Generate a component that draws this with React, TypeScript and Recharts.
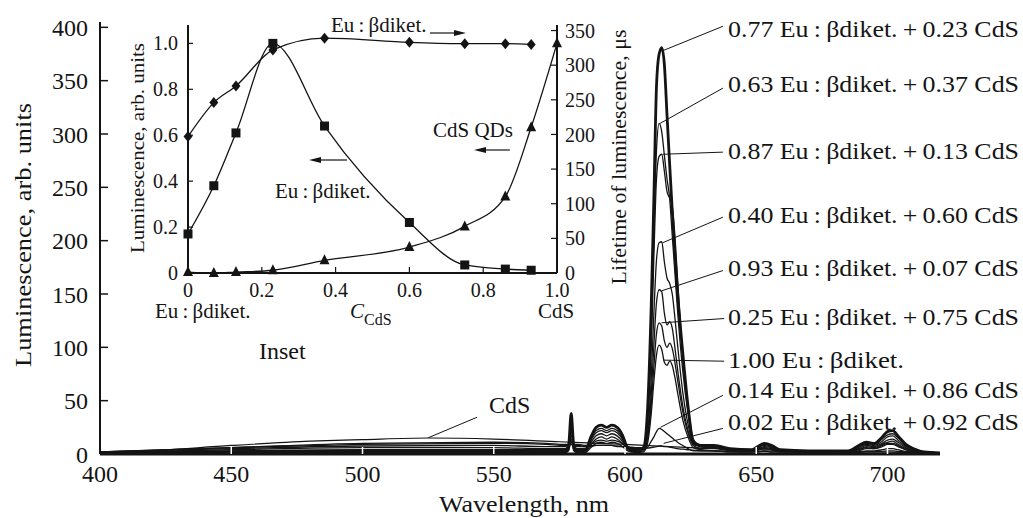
import { LineChart, ComposedChart, Line, XAxis, YAxis, ReferenceLine } from "recharts";

const SERIF = "'Liberation Serif', 'Times New Roman', serif";
const INK = "#141414";

// main panel: emission spectra, wavelength grid shared by the Eu-containing samples
const WAVELENGTHS = [
  400, 450, 500, 550, 570,
  577, 578.5, 579.5, 580.5, 582,
  585, 587, 589, 591, 593,
  595, 597, 599, 601, 604,
  607, 608.5, 610, 611, 612,
  613, 614, 615, 616, 617,
  618, 619, 620, 622, 624,
  626, 629, 634, 640, 648,
  650, 653, 656, 659, 670,
  685, 689, 692, 695, 698,
  700, 702, 704, 707, 710,
  714, 720,
];

const S_077 = [
  1, 2, 3, 3, 3,
  3, 8, 38, 8, 3,
  4, 16, 25, 27, 25,
  27, 25, 18, 6, 3,
  6, 38, 140, 240, 345,
  375, 381, 365, 318, 272,
  228, 188, 152, 95, 45,
  12, 8, 8, 5, 4,
  6, 10, 8, 4, 3,
  3, 8, 11, 10, 16,
  21, 22, 17, 9, 5,
  2, 1,
];

const S_063 = [
  1.5, 3, 4, 4, 4,
  4, 7, 30, 7, 4,
  4, 14, 22, 24, 22,
  24, 22, 15, 6, 4,
  5, 30, 115, 205, 285,
  310, 302, 280, 258, 240,
  205, 170, 135, 78, 38,
  11, 8, 7, 5, 4,
  5, 9, 7, 4, 3,
  3, 7, 10, 9, 14,
  18, 19, 15, 8, 4,
  2, 1,
];

const S_087 = [
  1, 1.5, 2, 2, 2,
  2, 6, 28, 6, 2,
  3, 13, 20, 22, 20,
  22, 20, 14, 5, 3,
  4, 26, 100, 185, 258,
  279, 281, 265, 246, 240,
  232, 205, 165, 92, 45,
  14, 7, 6, 4, 3,
  5, 8, 6, 3, 3,
  2, 6, 9, 8, 12,
  16, 17, 13, 7, 4,
  2, 1,
];

const S_040 = [
  1.5, 4, 6, 6, 5,
  5, 7, 22, 7, 5,
  5, 11, 17, 19, 17,
  19, 17, 12, 6, 5,
  5, 18, 72, 132, 182,
  198, 199, 180, 165, 160,
  150, 128, 103, 58, 28,
  10, 7, 6, 4, 3,
  4, 7, 6, 3, 3,
  2, 5, 8, 7, 10,
  13, 14, 11, 6, 3,
  2, 1,
];

const S_093 = [
  1, 1.2, 1.5, 1.5, 1.5,
  1.5, 4, 18, 4, 2,
  2, 9, 14, 16, 14,
  16, 14, 10, 4, 2,
  3, 14, 56, 102, 142,
  154, 152, 132, 121, 124,
  118, 100, 80, 45, 22,
  8, 5, 5, 3, 3,
  4, 6, 5, 3, 2,
  2, 4, 7, 6, 9,
  11, 12, 9, 5, 3,
  1.5, 1,
];

const S_025 = [
  2, 5, 7.5, 8, 7,
  7, 8, 14, 8, 7,
  7, 9, 12, 13, 12,
  13, 12, 10, 7, 6,
  6, 13, 46, 82, 113,
  123, 120, 106, 100, 104,
  99, 86, 70, 40, 20,
  9, 7, 6, 4, 3,
  4, 5, 4, 3, 2,
  2, 4, 6, 5, 8,
  10, 10, 8, 4, 2,
  1.5, 1,
];

const S_100 = [
  0.5, 0.8, 1, 1, 1,
  1, 3, 12, 3, 1,
  1.5, 6, 10, 11, 10,
  11, 10, 7, 3, 1.5,
  2, 9, 38, 68, 93,
  102, 98, 86, 83, 87,
  83, 72, 58, 32, 16,
  6, 4, 3, 2, 2,
  3, 5, 4, 2, 2,
  1.5, 3, 5, 5, 7,
  9, 9, 7, 4, 2,
  1, 0.5,
];

const S_014 = [
  2, 6, 9, 10, 9,
  8, 8, 9, 8, 8,
  7, 7, 8, 8, 8,
  8, 7, 7, 6, 5,
  4, 6, 12, 16, 21,
  24, 23, 21, 19, 17,
  15, 13, 11, 8, 5,
  3, 3, 3, 2, 2,
  2, 3, 2, 2, 2,
  1.5, 2, 3, 3, 4,
  5, 5, 4, 2.5, 1.5,
  1, 0.5,
];

const S_002 = [
  2, 6, 10, 11, 10,
  9, 9, 9, 9, 9,
  8, 8, 8, 8, 8,
  8, 7.5, 7, 6.5, 6,
  5.5, 5.5, 6, 6.5, 7,
  7.5, 7.5, 7, 7, 6.5,
  6, 5.5, 5, 4.5, 4,
  3.5, 3, 3, 2.5, 2,
  2, 2.5, 2, 2, 1.5,
  1.5, 1.5, 2, 2, 2.5,
  3, 3, 2.5, 2, 1.5,
  1, 0.5,
];

// pure CdS quantum dots, broad band
const CDS_WAVELENGTHS = [400, 420, 450, 480, 500, 525, 550, 575, 600, 625, 650, 680, 720];
const CDS_ONLY = [1, 3, 8, 12, 13.5, 15, 14, 11.5, 9, 6, 4, 2.5, 1];

const X_TICKS = [400, 450, 500, 550, 600, 650, 700];
const Y_TICKS = [0, 50, 100, 150, 200, 250, 300, 350, 400];

// inset: composition dependence
const C_CDS = [0, 0.07, 0.13, 0.23, 0.37, 0.6, 0.75, 0.86, 0.93];
const C_CDS_QD = [0, 0.07, 0.13, 0.23, 0.37, 0.6, 0.75, 0.86, 0.93, 1.0];
const LIFETIME_EU = [197, 246, 270, 322, 339, 333, 331, 331, 330];
const LUM_EU = [0.17, 0.38, 0.61, 1.0, 0.64, 0.22, 0.035, 0.017, 0.012];
const LUM_CDS = [0.004, 0, 0.004, 0.012, 0.055, 0.113, 0.203, 0.333, 0.635, 1.0];

const INSET_X_TICKS = [0, 0.2, 0.4, 0.6, 0.8, 1.0];
const INSET_LUM_TICKS = [0, 0.2, 0.4, 0.6, 0.8, 1.0];
const INSET_LIFE_TICKS = [0, 50, 100, 150, 200, 250, 300, 350];

const SPECTRA = [
  { id: "s077", values: S_077, width: 2.8 },
  { id: "s063", values: S_063, width: 1.3 },
  { id: "s087", values: S_087, width: 1.3 },
  { id: "s040", values: S_040, width: 1.3 },
  { id: "s093", values: S_093, width: 1.3 },
  { id: "s025", values: S_025, width: 1.3 },
  { id: "s100", values: S_100, width: 1.3 },
  { id: "s014", values: S_014, width: 1.3 },
  { id: "s002", values: S_002, width: 1.3 },
];

const toPoints = (xs: number[], ys: number[]) => xs.map((x, i) => ({ x, y: ys[i] }));

const sp = "\u2009";
const euLabel = `Eu${sp}:${sp}βdiket.`;

// label text, text centre y (px), leader from curve point to label (data units)
const CURVE_LABELS = [
  { text: `0.77 ${euLabel}${sp}+${sp}0.23 CdS`, y: 29, from: { x: 614.3, y: 378 }, to: { x: 637.3, y: 401 } },
  { text: `0.63 ${euLabel}${sp}+${sp}0.37 CdS`, y: 84, from: { x: 613.4, y: 310 }, to: { x: 637.3, y: 343 } },
  { text: `0.87 ${euLabel}${sp}+${sp}0.13 CdS`, y: 151, from: { x: 614.3, y: 281 }, to: { x: 637.3, y: 283 } },
  { text: `0.40 ${euLabel}${sp}+${sp}0.60 CdS`, y: 215, from: { x: 614.3, y: 198 }, to: { x: 637.3, y: 222 } },
  { text: `0.93 ${euLabel}${sp}+${sp}0.07 CdS`, y: 268, from: { x: 614.0, y: 153 }, to: { x: 637.3, y: 172 } },
  { text: `0.25 ${euLabel}${sp}+${sp}0.75 CdS`, y: 317, from: { x: 613.9, y: 123 }, to: { x: 637.8, y: 127 } },
  { text: `1.00 ${euLabel}`, y: 360, from: { x: 614.6, y: 88 }, to: { x: 637.8, y: 87 }, short: true },
  { text: `0.14 Eu${sp}:${sp}βdikel.${sp}+${sp}0.86 CdS`, y: 390, from: { x: 613.5, y: 25 }, to: { x: 637.3, y: 55 } },
  { text: `0.02 ${euLabel}${sp}+${sp}0.92 CdS`, y: 422, from: { x: 614.7, y: 10 }, to: { x: 637.3, y: 24 } },
];

const fmt1 = (v: number) => (v === 0 ? "0" : v.toFixed(1));

function Diamond(props: any) {
  const { cx, cy, index } = props;
  return <path key={`dm-${index}`} d={`M${cx},${cy - 5.5} L${cx + 4.5},${cy} L${cx},${cy + 5.5} L${cx - 4.5},${cy} Z`} fill={INK} />;
}

function Square(props: any) {
  const { cx, cy, index } = props;
  return <rect key={`sq-${index}`} x={cx - 4.5} y={cy - 4.5} width={9} height={9} fill={INK} />;
}

function Triangle(props: any) {
  const { cx, cy, index } = props;
  return <path key={`tr-${index}`} d={`M${cx},${cy - 6} L${cx + 5},${cy + 4} L${cx - 5},${cy + 4} Z`} fill={INK} />;
}

function Arrow({ x1, x2, y }: { x1: number; x2: number; y: number }) {
  const dir = x2 > x1 ? 1 : -1;
  return (
    <g>
      <line x1={x1} y1={y} x2={x2 - dir * 8} y2={y} stroke={INK} strokeWidth={1.2} />
      <path d={`M${x2},${y} L${x2 - dir * 12},${y - 3} L${x2 - dir * 12},${y + 3} Z`} fill={INK} />
    </g>
  );
}

function SpectraPanel() {
  return (
    <LineChart width={1023} height={518} margin={{ top: 22, right: 83, bottom: 24, left: 40 }}>
      <XAxis
        type="number"
        dataKey="x"
        domain={[400, 720]}
        ticks={X_TICKS}
        allowDataOverflow
        height={40}
        tickSize={-7}
        tickMargin={18}
        axisLine={{ stroke: INK, strokeWidth: 3 }}
        tickLine={{ stroke: "#fff", strokeWidth: 1.5 }}
        tick={{ fontSize: 24, fill: INK, fontFamily: SERIF }}
      />
      <YAxis
        type="number"
        dataKey="y"
        domain={[0, 405]}
        ticks={Y_TICKS}
        allowDataOverflow
        width={60}
        tickSize={-8}
        tickMargin={20}
        axisLine={{ stroke: INK, strokeWidth: 2 }}
        tickLine={{ stroke: INK, strokeWidth: 1.5 }}
        tick={{ fontSize: 24, fill: INK, fontFamily: SERIF }}
      />
      <Line
        data={toPoints(CDS_WAVELENGTHS, CDS_ONLY)}
        dataKey="y"
        type="monotone"
        stroke={INK}
        strokeWidth={1.2}
        dot={false}
        isAnimationActive={false}
      />
      {SPECTRA.map((s) => (
        <Line
          key={s.id}
          data={toPoints(WAVELENGTHS, s.values)}
          dataKey="y"
          type="monotone"
          stroke={INK}
          strokeWidth={s.width}
          dot={false}
          isAnimationActive={false}
        />
      ))}
      {CURVE_LABELS.map((l, i) => (
        <ReferenceLine key={`ld-${i}`} segment={[l.from, l.to]} stroke={INK} strokeWidth={1} ifOverflow="visible" />
      ))}
      <ReferenceLine segment={[{ x: 525, y: 15.2 }, { x: 543.6, y: 34.4 }]} stroke={INK} strokeWidth={1} ifOverflow="visible" />
    </LineChart>
  );
}

function InsetPanel() {
  return (
    <ComposedChart width={480} height={300} margin={{ top: 20, right: 3, bottom: 2, left: 8 }}>
      <XAxis
        type="number"
        dataKey="x"
        domain={[0, 1]}
        ticks={INSET_X_TICKS}
        tickFormatter={fmt1}
        height={30}
        tickSize={-6}
        tickMargin={16}
        axisLine={{ stroke: INK, strokeWidth: 2 }}
        tickLine={{ stroke: INK, strokeWidth: 1.2 }}
        tick={{ fontSize: 20, fill: INK, fontFamily: SERIF }}
      />
      <YAxis
        yAxisId="lum"
        type="number"
        domain={[0, 1.08]}
        ticks={INSET_LUM_TICKS}
        tickFormatter={fmt1}
        width={60}
        tickSize={-5}
        tickMargin={15}
        axisLine={{ stroke: INK, strokeWidth: 2 }}
        tickLine={{ stroke: INK, strokeWidth: 1.2 }}
        tick={{ fontSize: 20, fill: INK, fontFamily: SERIF }}
      />
      <YAxis
        yAxisId="life"
        orientation="right"
        type="number"
        domain={[0, 358]}
        ticks={INSET_LIFE_TICKS}
        width={40}
        tickSize={-6}
        tickMargin={14}
        axisLine={{ stroke: INK, strokeWidth: 2 }}
        tickLine={{ stroke: INK, strokeWidth: 1.2 }}
        tick={{ fontSize: 20, fill: INK, fontFamily: SERIF }}
      />
      <Line
        yAxisId="life"
        data={toPoints(C_CDS, LIFETIME_EU)}
        dataKey="y"
        type="monotone"
        stroke={INK}
        strokeWidth={1.3}
        dot={Diamond}
        isAnimationActive={false}
      />
      <Line
        yAxisId="lum"
        data={toPoints(C_CDS, LUM_EU)}
        dataKey="y"
        type="monotone"
        stroke={INK}
        strokeWidth={1.3}
        dot={Square}
        isAnimationActive={false}
      />
      <Line
        yAxisId="lum"
        data={toPoints(C_CDS_QD, LUM_CDS)}
        dataKey="y"
        type="monotone"
        stroke={INK}
        strokeWidth={1.3}
        dot={Triangle}
        isAnimationActive={false}
      />
    </ComposedChart>
  );
}

function Annotations() {
  const t = { fill: INK, fontFamily: SERIF, dominantBaseline: "central" as const };
  return (
    <svg width={1023} height={518} style={{ position: "absolute", left: 0, top: 0, pointerEvents: "none" }}>
      {/* main axis titles */}
      <text {...t} fontSize={24} textAnchor="middle" transform="translate(23,235) rotate(-90)" textLength={264} lengthAdjust="spacingAndGlyphs">
        Luminescence, arb. units
      </text>
      <text {...t} fontSize={24} textAnchor="middle" x={524} y={504} textLength={170} lengthAdjust="spacingAndGlyphs">
        Wavelength, nm
      </text>
      {CURVE_LABELS.map((l, i) => (
        <text
          key={`lb-${i}`}
          {...t}
          fontSize={24}
          x={728}
          y={l.y}
          textLength={l.short ? 176 : 291}
          lengthAdjust="spacingAndGlyphs"
        >
          {l.text}
        </text>
      ))}
      <text {...t} fontSize={24} x={489} y={405}>CdS</text>

      {/* inset texts */}
      <text {...t} fontSize={19} textAnchor="middle" transform="translate(137,148) rotate(-90)" textLength={210} lengthAdjust="spacingAndGlyphs">
        Luminescence, arb. units
      </text>
      <text {...t} fontSize={20} textAnchor="middle" transform="translate(619,157) rotate(-90)" textLength={255} lengthAdjust="spacingAndGlyphs">
        Lifetime of luminescence, μs
      </text>
      <text {...t} fontSize={21} x={331} y={25}>{euLabel}</text>
      <Arrow x1={430} x2={466} y={33} />
      <text {...t} fontSize={21} x={275} y={191}>{euLabel}</text>
      <Arrow x1={347} x2={309} y={160} />
      <text {...t} fontSize={21} x={433} y={130}>CdS QDs</text>
      <Arrow x1={510} x2={474} y={150} />
      <text {...t} fontSize={21} x={155} y={311}>{euLabel}</text>
      <text {...t} fontSize={21} x={350} y={311}>
        <tspan fontStyle="italic">C</tspan>
        <tspan fontSize={16} dy={8}>CdS</tspan>
      </text>
      <text {...t} fontSize={21} x={538} y={311}>CdS</text>
      <text {...t} fontSize={24} x={259} y={351}>Inset</text>
    </svg>
  );
}

export default function App() {
  return (
    <div style={{ position: "absolute", left: 0, top: 0, width: 1023, height: 518, background: "#fff" }}>
      <SpectraPanel />
      <div style={{ position: "absolute", left: 120, top: 5 }}>
        <InsetPanel />
      </div>
      <Annotations />
    </div>
  );
}
